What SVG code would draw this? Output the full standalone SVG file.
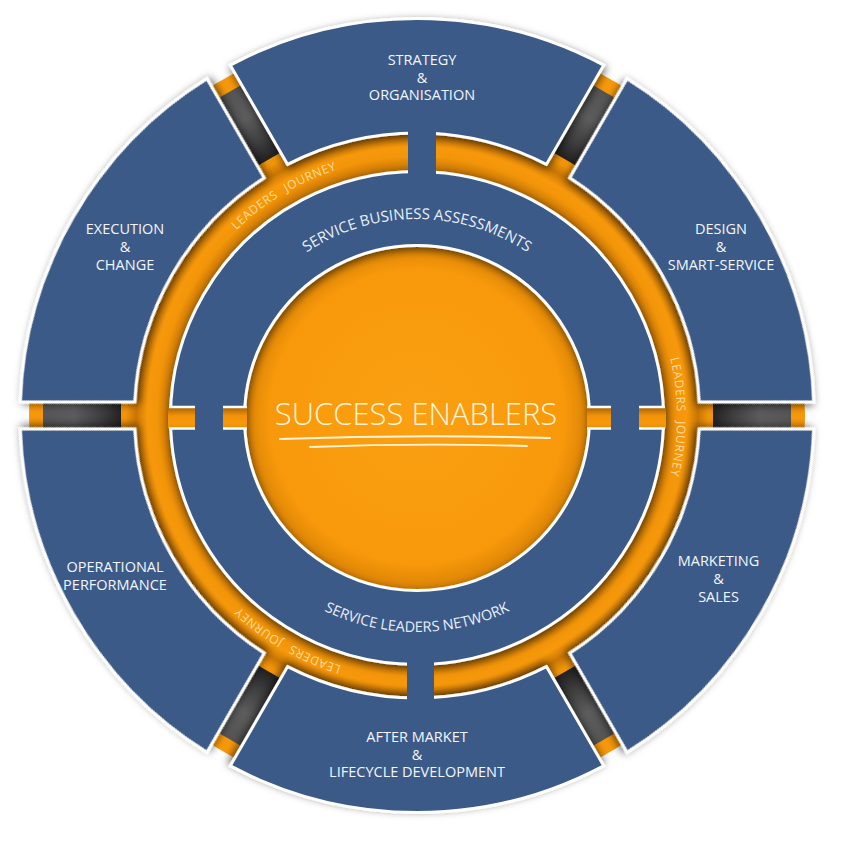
<svg xmlns="http://www.w3.org/2000/svg" width="850" height="864" viewBox="0 0 850 864">
<defs>
<style>
.seg{fill:#3b5a88;stroke:#fff;stroke-width:3}
.ring{fill:#3b5a88;stroke:#fff;stroke-width:3;fill-rule:evenodd}
.blue{fill:#3b5a88}
.lbl{font-family:"Open Sans","Noto Sans","DejaVu Sans",sans-serif;font-size:14.5px;fill:#f3f6fb;text-anchor:middle}
.arc{font-family:"Open Sans","Noto Sans","DejaVu Sans",sans-serif;font-size:15px;fill:#e9eff8;text-anchor:middle}
.lj{font-family:"Open Sans","Noto Sans","DejaVu Sans",sans-serif;font-size:12px;fill:#ffdc98;letter-spacing:0.6px;text-anchor:middle}
.title{font-family:"Open Sans","Noto Sans","DejaVu Sans",sans-serif;font-size:31px;font-weight:300;fill:#fff4d8;text-anchor:middle}
.chl{stroke:#fff;stroke-width:2.5;fill:none}
.ul{stroke:#fff4d8;fill:none;stroke-linecap:round}
</style>
<filter id="sh" x="-30%" y="-30%" width="160%" height="160%">
<feDropShadow dx="1" dy="3" stdDeviation="4.5" flood-color="#000" flood-opacity="0.6"/>
</filter>
<radialGradient id="disk" cx="417" cy="416.5" r="388" gradientUnits="userSpaceOnUse">
<stop offset="0" stop-color="#faa012"/>
<stop offset="0.38" stop-color="#f8990b"/>
<stop offset="0.442" stop-color="#dc8405"/>
<stop offset="0.6" stop-color="#c07004"/>
<stop offset="0.637" stop-color="#c57405"/>
<stop offset="0.67" stop-color="#f39509"/>
<stop offset="0.695" stop-color="#f8990b"/>
<stop offset="0.724" stop-color="#c97605"/>
<stop offset="0.75" stop-color="#f39509"/>
<stop offset="1" stop-color="#f8990b"/>
</radialGradient>
<linearGradient id="gapg" x1="0" y1="1" x2="0" y2="0">
<stop offset="0" stop-color="#222"/>
<stop offset="0.25" stop-color="#3e3e3e"/>
<stop offset="0.6" stop-color="#5c5c5c"/>
<stop offset="1" stop-color="#555"/>
</linearGradient>
<linearGradient id="chg" x1="0" y1="0" x2="0" y2="1">
<stop offset="0" stop-color="#a85e04"/>
<stop offset="0.4" stop-color="#f0920a"/>
<stop offset="0.75" stop-color="#f8990b"/>
<stop offset="1" stop-color="#e58b07"/>
</linearGradient>
<path id="seg" d="M-129.40,-251.12 L-186.69,-350.36 A397 397 0 0 1 186.69,-350.36 L129.40,-251.12 A282.5 282.5 0 0 0 -129.40,-251.12 Z"/>
<rect id="gap" x="-13.5" y="-374" width="27" height="78" fill="url(#gapg)"/>
<path id="ljTL" d="M171.2,332.4 A260 260 0 0 1 457.7,160.2"/>
<path id="ljR" d="M616.2,249.9 A260 260 0 0 1 616.2,584.1"/>
<path id="ljBL" d="M462.1,673.1 A260 260 0 0 1 172.7,505.9"/>
<path id="arcTop" d="M218,418 A199 199 0 0 1 616,418"/>
<path id="arcBot" d="M203,418 A214 214 0 0 0 631,418"/>
</defs>

<g id="background">
<circle cx="417" cy="415.5" r="388" fill="url(#disk)"/>
<use href="#gap" transform="translate(417 415.5) rotate(30)"/>
<use href="#gap" transform="translate(417 415.5) rotate(90)"/>
<use href="#gap" transform="translate(417 415.5) rotate(150)"/>
<use href="#gap" transform="translate(417 415.5) rotate(210)"/>
<use href="#gap" transform="translate(417 415.5) rotate(270)"/>
<use href="#gap" transform="translate(417 415.5) rotate(330)"/>
</g>

<g id="node-strategy">
<use href="#seg" class="seg" filter="url(#sh)" transform="translate(417 415.5)"/>
<text class="lbl"><tspan x="422" y="65">STRATEGY</tspan><tspan x="422" y="82.5">&amp;</tspan><tspan x="422" y="100">ORGANISATION</tspan></text>
</g>
<g id="node-design">
<use href="#seg" class="seg" filter="url(#sh)" transform="translate(417 415.5) rotate(60)"/>
<text class="lbl"><tspan x="721" y="234">DESIGN</tspan><tspan x="721" y="252">&amp;</tspan><tspan x="721" y="270">SMART-SERVICE</tspan></text>
</g>
<g id="node-marketing">
<use href="#seg" class="seg" filter="url(#sh)" transform="translate(417 415.5) rotate(120)"/>
<text class="lbl"><tspan x="718.5" y="566">MARKETING</tspan><tspan x="718.5" y="584">&amp;</tspan><tspan x="718.5" y="602">SALES</tspan></text>
</g>
<g id="node-aftermarket">
<use href="#seg" class="seg" filter="url(#sh)" transform="translate(417 415.5) rotate(180)"/>
<text class="lbl"><tspan x="417" y="742">AFTER MARKET</tspan><tspan x="417" y="759.5">&amp;</tspan><tspan x="417" y="777">LIFECYCLE DEVELOPMENT</tspan></text>
</g>
<g id="node-operational">
<use href="#seg" class="seg" filter="url(#sh)" transform="translate(417 415.5) rotate(240)"/>
<text class="lbl"><tspan x="115" y="572">OPERATIONAL</tspan><tspan x="115" y="590">PERFORMANCE</tspan></text>
</g>
<g id="node-execution">
<use href="#seg" class="seg" filter="url(#sh)" transform="translate(417 415.5) rotate(300)"/>
<text class="lbl"><tspan x="125" y="234">EXECUTION</tspan><tspan x="125" y="252">&amp;</tspan><tspan x="125" y="270">CHANGE</tspan></text>
</g>

<g id="node-service-ring">
<path class="ring" filter="url(#sh)" d="M417,171.5 A246.5 246.5 0 1 1 416.99,171.5 Z M417,245.5 A172.5 172.5 0 1 0 417.01,245.5 Z"/>
<text class="arc"><textPath href="#arcTop" startOffset="50%">SERVICE BUSINESS ASSESSMENTS</textPath></text>
<text class="arc" style="font-size:14.5px"><textPath href="#arcBot" startOffset="50%">SERVICE LEADERS NETWORK</textPath></text>
</g>

<g id="node-success-enablers">
<text class="title" x="416" y="425">SUCCESS ENABLERS</text>
<path class="ul" stroke-width="2" d="M280,439 Q415,434 550,438"/>
<path class="ul" stroke-width="1.8" d="M310,447 Q420,443 527,446"/>
</g>

<g id="connectors">
<rect x="168" y="407" width="79" height="21.5" fill="url(#chg)"/>
<rect x="587" y="407" width="79" height="21.5" fill="url(#chg)"/>
<path class="chl" d="M169,407 H247 M169,428.5 H247 M587,407 H665 M587,428.5 H665"/>
<rect class="blue" x="195" y="404" width="28" height="27"/>
<rect class="blue" x="611" y="404" width="28" height="27"/>
<rect class="blue" x="408" y="131" width="28" height="43"/>
<rect class="blue" x="407" y="662" width="27" height="38"/>
</g>

<g id="leaders-journey">
<text class="lj"><textPath href="#ljTL" startOffset="50%">LEADERS<tspan dx="9">JOURNEY</tspan></textPath></text>
<text class="lj"><textPath href="#ljR" startOffset="50%">LEADERS<tspan dx="9">JOURNEY</tspan></textPath></text>
<text class="lj"><textPath href="#ljBL" startOffset="50%">LEADERS<tspan dx="9">JOURNEY</tspan></textPath></text>
</g>
</svg>
